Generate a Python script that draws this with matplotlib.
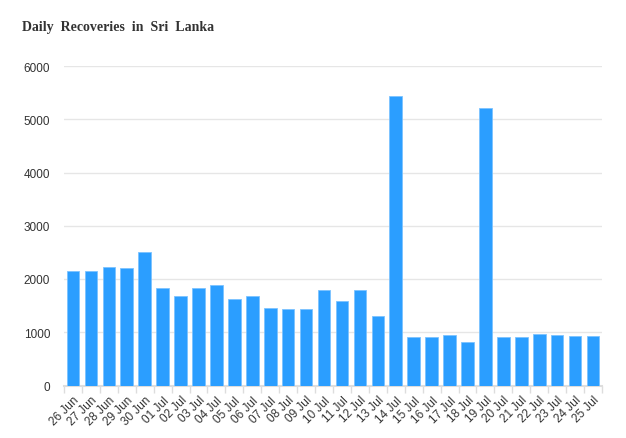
import matplotlib
matplotlib.use("Agg")
import matplotlib.pyplot as plt
import numpy as np

dates = ["26 Jun", "27 Jun", "28 Jun", "29 Jun", "30 Jun", "01 Jul", "02 Jul", "03 Jul",
         "04 Jul", "05 Jul", "06 Jul", "07 Jul", "08 Jul", "09 Jul", "10 Jul", "11 Jul",
         "12 Jul", "13 Jul", "14 Jul", "15 Jul", "16 Jul", "17 Jul", "18 Jul", "19 Jul",
         "20 Jul", "21 Jul", "22 Jul", "23 Jul", "24 Jul", "25 Jul"]
recoveries = [2158, 2147, 2233, 2203, 2509, 1827, 1688, 1838, 1895, 1620, 1682, 1462,
              1432, 1432, 1795, 1583, 1795, 1300, 5436, 906, 906, 949, 812, 5203,
              918, 912, 962, 956, 930, 930]
y_ticks = [0, 1000, 2000, 3000, 4000, 5000, 6000]

fig = plt.figure(figsize=(6.26, 4.39), dpi=100)
ax = fig.add_axes([64/626, 1 - 386.5/439, (602 - 64)/626, (386.5 - 67)/439])

x = np.arange(len(dates))
ax.bar(x, recoveries, width=0.7, color="#2b9eff", edgecolor="#7cc3ff", linewidth=0.6, zorder=3)

ax.set_xlim(-0.5, len(dates) - 0.5)
ax.set_ylim(0, 6000)
ax.set_yticks(y_ticks)
ax.set_yticklabels([str(v) for v in y_ticks], fontsize=8.5, color="#333333", family="Liberation Sans")
ax.yaxis.grid(True, color="#e6e6e6", linewidth=1, zorder=0)
ax.tick_params(axis="y", length=0, pad=10)

ax.set_xticks(x)
ax.set_xticklabels(dates, rotation=45, ha="right", rotation_mode="anchor", fontsize=8.5,
                   color="#333333", family="Liberation Sans")
ax.tick_params(axis="x", length=0, pad=6)
ax.set_xticks(np.arange(len(dates) + 1) - 0.5, minor=True)
ax.tick_params(axis="x", which="minor", length=5, color="#dddddd", width=1)

for s in ["top", "right", "left"]:
    ax.spines[s].set_visible(False)
ax.spines["bottom"].set_color("#dddddd")
ax.spines["bottom"].set_linewidth(1.5)
ax.set_axisbelow(True)

fig.text(22/626, 1 - 27/439, "Daily  Recoveries  in  Sri  Lanka", fontsize=10, fontweight="bold",
         family="Liberation Serif", color="#333333", va="center", ha="left")

fig.savefig("out.png", dpi=100)
